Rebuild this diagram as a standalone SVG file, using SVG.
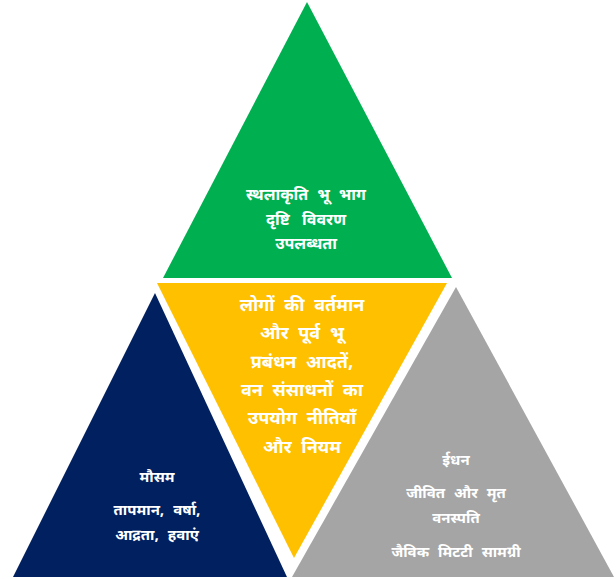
<svg xmlns="http://www.w3.org/2000/svg" width="616" height="579" viewBox="0 0 616 579">
<style>
text{font-family:"Noto Sans Devanagari","Noto Sans","Lohit Devanagari",sans-serif;font-weight:bold;fill:#fff;text-anchor:middle;white-space:pre;word-spacing:5px}
.g{font-size:16px}.y{font-size:18px}.n{font-size:15px}.r{font-size:15px}
.ns{word-spacing:0}
</style>
<rect width="616" height="579" fill="#fff"/>
<g id="topography">
<polygon points="307,2 163,278 452,278" fill="#00B050"/>
<text class="g" x="306" y="200">स्थलाकृति भू भाग</text>
<text class="g ns" x="306" y="225">दृष्टि   विवरण</text>
<text class="g" x="306" y="249">उपलब्धता</text>
</g>
<g id="human">
<polygon points="157,283 447,283 294,558" fill="#FFC000"/>
<text class="y" x="302" y="311">लोगों की वर्तमान</text>
<text class="y" x="302" y="339">और पूर्व भू</text>
<text class="y" x="302" y="368">प्रबंधन आदतें,</text>
<text class="y" x="302" y="396">वन संसाधनों का</text>
<text class="y" x="302" y="424">उपयोग नीतियाँ</text>
<text class="y" x="302" y="453">और नियम</text>
</g>
<g id="weather">
<polygon points="155,293 13,577 287,577" fill="#002060"/>
<text class="n" x="157" y="482">मौसम</text>
<text class="n" x="157" y="515">तापमान, वर्षा,</text>
<text class="n" x="157" y="540">आद्रता, हवाएं</text>
</g>
<g id="fuel">
<polygon points="456,287 292,577 614,577" fill="#A5A5A5"/>
<text class="r" x="456" y="465">ईधन</text>
<text class="r" x="456" y="498">जीवित और मृत</text>
<text class="r" x="456" y="523">वनस्पति</text>
<text class="r" x="456" y="557">जैविक मिटटी सामग्री</text>
</g>
<g id="connectors"></g>
</svg>
